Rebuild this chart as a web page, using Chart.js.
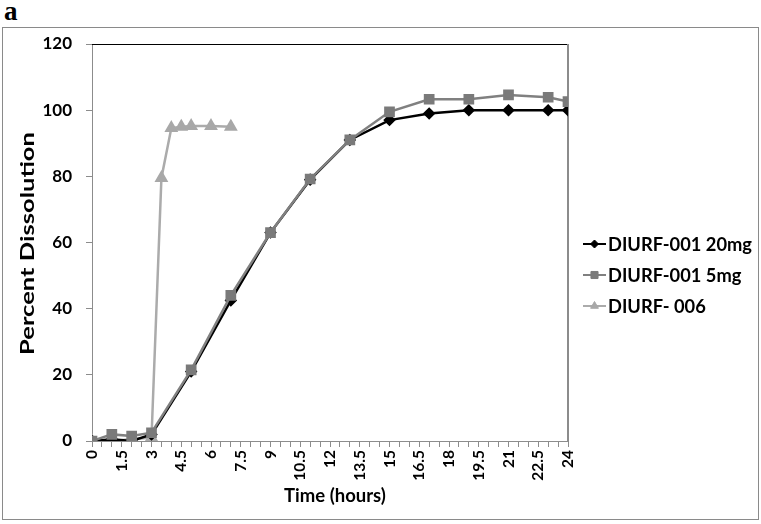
<!DOCTYPE html>
<html><head><meta charset="utf-8">
<script src="https://cdn.jsdelivr.net/npm/chart.js@4.4.1/dist/chart.umd.min.js"></script>
<style>
html,body{margin:0;padding:0;background:#fff;}
#wrap{position:relative;width:761px;height:524px;overflow:hidden;background:#fff;}
#frame{position:absolute;left:2px;top:27px;width:755px;height:491px;border:1px solid #8a8a8a;}
#lbl{position:absolute;left:4px;top:-4px;font:bold 27px "Liberation Serif",serif;color:#000;}
canvas{position:absolute;left:0;top:0;}
</style></head><body>
<div id="wrap"><div id="frame"></div><div id="lbl">a</div><canvas id="c" width="761" height="524"></canvas></div>
<script>
// ---- data ----
const seriesNames = ['DIURF-001 20mg', 'DIURF-001 5mg', 'DIURF- 006'];
const hours20 = [0, 1, 2, 3, 5, 7, 9, 11, 13, 15, 17, 19, 21, 23, 24];
const values20 = [0, 0.5, 0, 2, 21, 42.5, 63, 79, 91, 97, 99, 100, 100, 100, 100];
const hours5 = [0, 1, 2, 3, 5, 7, 9, 11, 13, 15, 17, 19, 21, 23, 24];
const values5 = [0, 2, 1.5, 2.5, 21.5, 44, 63, 79.2, 91, 99.5, 103.3, 103.3, 104.6, 103.9, 102.6];
const hours006 = [0, 1, 2, 3, 3.5, 4, 4.5, 5, 6, 7];
const values006 = [0, 0, 0.5, 1, 79.5, 94.6, 95, 95.2, 95.2, 95];
const xTickLabels = ['0','1.5','3','4.5','6','7.5','9','10.5','12','13.5','15','16.5','18','19.5','21','22.5','24'];
const yTickLabels = ['0','20','40','60','80','100','120'];
const xTitle = 'Time (hours)';
const yTitle = 'Percent Dissolution';

const toPts = (xs, ys) => xs.map((x, i) => ({x: x, y: ys[i]}));
const FONT = 'Lato';

const frameLines = {
  id: 'frameLines',
  beforeDatasetsDraw(chart) {
    const {ctx, chartArea: a} = chart;
    ctx.save();
    ctx.strokeStyle = '#000';
    ctx.lineWidth = 1;
    ctx.beginPath(); ctx.moveTo(a.left, a.top + 0.5); ctx.lineTo(a.right, a.top + 0.5); ctx.stroke();
    ctx.strokeStyle = '#8c8c8c';
    ctx.lineWidth = 2;
    ctx.beginPath(); ctx.moveTo(a.right, a.top); ctx.lineTo(a.right, a.bottom); ctx.stroke();
    ctx.restore();
  }
};

// axis titles, drawn like the reference (y title slightly stretched along its length)
const axisTitles = {
  id: 'axisTitles',
  afterDraw(chart) {
    const {ctx, chartArea: a} = chart;
    ctx.save();
    ctx.fillStyle = '#000';
    ctx.textAlign = 'center';
    ctx.textBaseline = 'middle';
    ctx.font = 'bold 18.5px ' + FONT;
    ctx.fillText(xTitle, (a.left + a.right) / 2 + 5, 496);
    ctx.translate(28, (a.top + a.bottom) / 2 + 1);
    ctx.rotate(-Math.PI / 2);
    ctx.scale(1.42, 1);
    ctx.font = 'bold 18px ' + FONT;
    ctx.fillText(yTitle, 0, 0);
    ctx.restore();
  }
};

const customLegend = {
  id: 'customLegend',
  afterDraw(chart) {
    const {ctx} = chart;
    const x0 = 583, x1 = 606, tx = 608, y0 = 244, dy = 31;
    ctx.save();
    [0, 1, 2].forEach((di, k) => {
      const ds = chart.data.datasets[di];
      const y = y0 + k * dy;
      ctx.strokeStyle = ds.borderColor;
      ctx.lineWidth = 2;
      ctx.beginPath(); ctx.moveTo(x0, y); ctx.lineTo(x1, y); ctx.stroke();
      ctx.fillStyle = ds.pointBackgroundColor;
      ctx.strokeStyle = ds.pointBorderColor;
      ctx.lineWidth = 1;
      Chart.helpers.drawPoint(ctx, {pointStyle: ds.pointStyle, radius: ds.legendRadius, borderWidth: 1, rotation: 0}, (x0 + x1) / 2, y);
      ctx.fillStyle = '#000';
      ctx.font = 'bold 18.3px ' + FONT;
      ctx.textBaseline = 'middle';
      ctx.textAlign = 'left';
      ctx.fillText(seriesNames[di], tx, y + 1);
    });
    ctx.restore();
  }
};

new Chart(document.getElementById('c'), {
  type: 'line',
  data: {
    datasets: [
      {label: seriesNames[0], data: toPts(hours20, values20), borderColor: '#000000', backgroundColor: '#000000',
       pointBackgroundColor: '#000000', pointBorderColor: '#000000', pointStyle: 'rectRot', pointRadius: 4.5, legendRadius: 4,
       borderWidth: 2.5, tension: 0, order: 1},
      {label: seriesNames[1], data: toPts(hours5, values5), borderColor: '#808080', backgroundColor: '#7a7a7a',
       pointBackgroundColor: '#7a7a7a', pointBorderColor: '#7a7a7a', pointStyle: 'rect', pointRadius: 5.8, legendRadius: 5,
       borderWidth: 2.5, tension: 0, order: 0},
      {label: seriesNames[2], data: toPts(hours006, values006), borderColor: '#ababab', backgroundColor: '#a8a8a8',
       pointBackgroundColor: '#a8a8a8', pointBorderColor: '#a8a8a8', pointStyle: 'triangle', pointRadius: 5.5, legendRadius: 4.5,
       borderWidth: 2.5, tension: 0, order: 2}
    ]
  },
  options: {
    responsive: false,
    animation: false,
    devicePixelRatio: 1,
    layout: {padding: {left: 0, top: 44, right: 193, bottom: 0}},
    plugins: {legend: {display: false}, tooltip: {enabled: false}},
    elements: {point: {borderWidth: 1}},
    scales: {
      x: {
        type: 'linear', min: 0, max: 24,
        afterFit(s) { s.height = 83; },
        ticks: {
          stepSize: 0.5, autoSkip: false, minRotation: 90, maxRotation: 90, padding: 3,
          color: '#000', font: {family: FONT, size: 15.5, weight: 'bold'},
          callback(v) { const q = v / 1.5; return Math.abs(q - Math.round(q)) < 1e-9 ? xTickLabels[Math.round(q)] : ''; }
        },
        grid: {display: true, drawOnChartArea: false, drawTicks: true, tickLength: 6, color: '#8c8c8c'},
        border: {display: true, color: '#8c8c8c', width: 1},
        title: {display: false}
      },
      y: {
        min: 0, max: 120,
        afterFit(s) { s.width = 92; },
        ticks: {
          stepSize: 20, padding: 14, color: '#000', font: {family: FONT, size: 17, weight: 'bold'},
          callback(v) { return yTickLabels[Math.round(v / 20)]; }
        },
        grid: {display: true, drawOnChartArea: false, drawTicks: true, tickLength: 6, color: '#8c8c8c'},
        border: {display: true, color: '#8c8c8c', width: 1},
        title: {display: false}
      }
    }
  },
  plugins: [frameLines, axisTitles, customLegend]
});
</script>
</body></html>
